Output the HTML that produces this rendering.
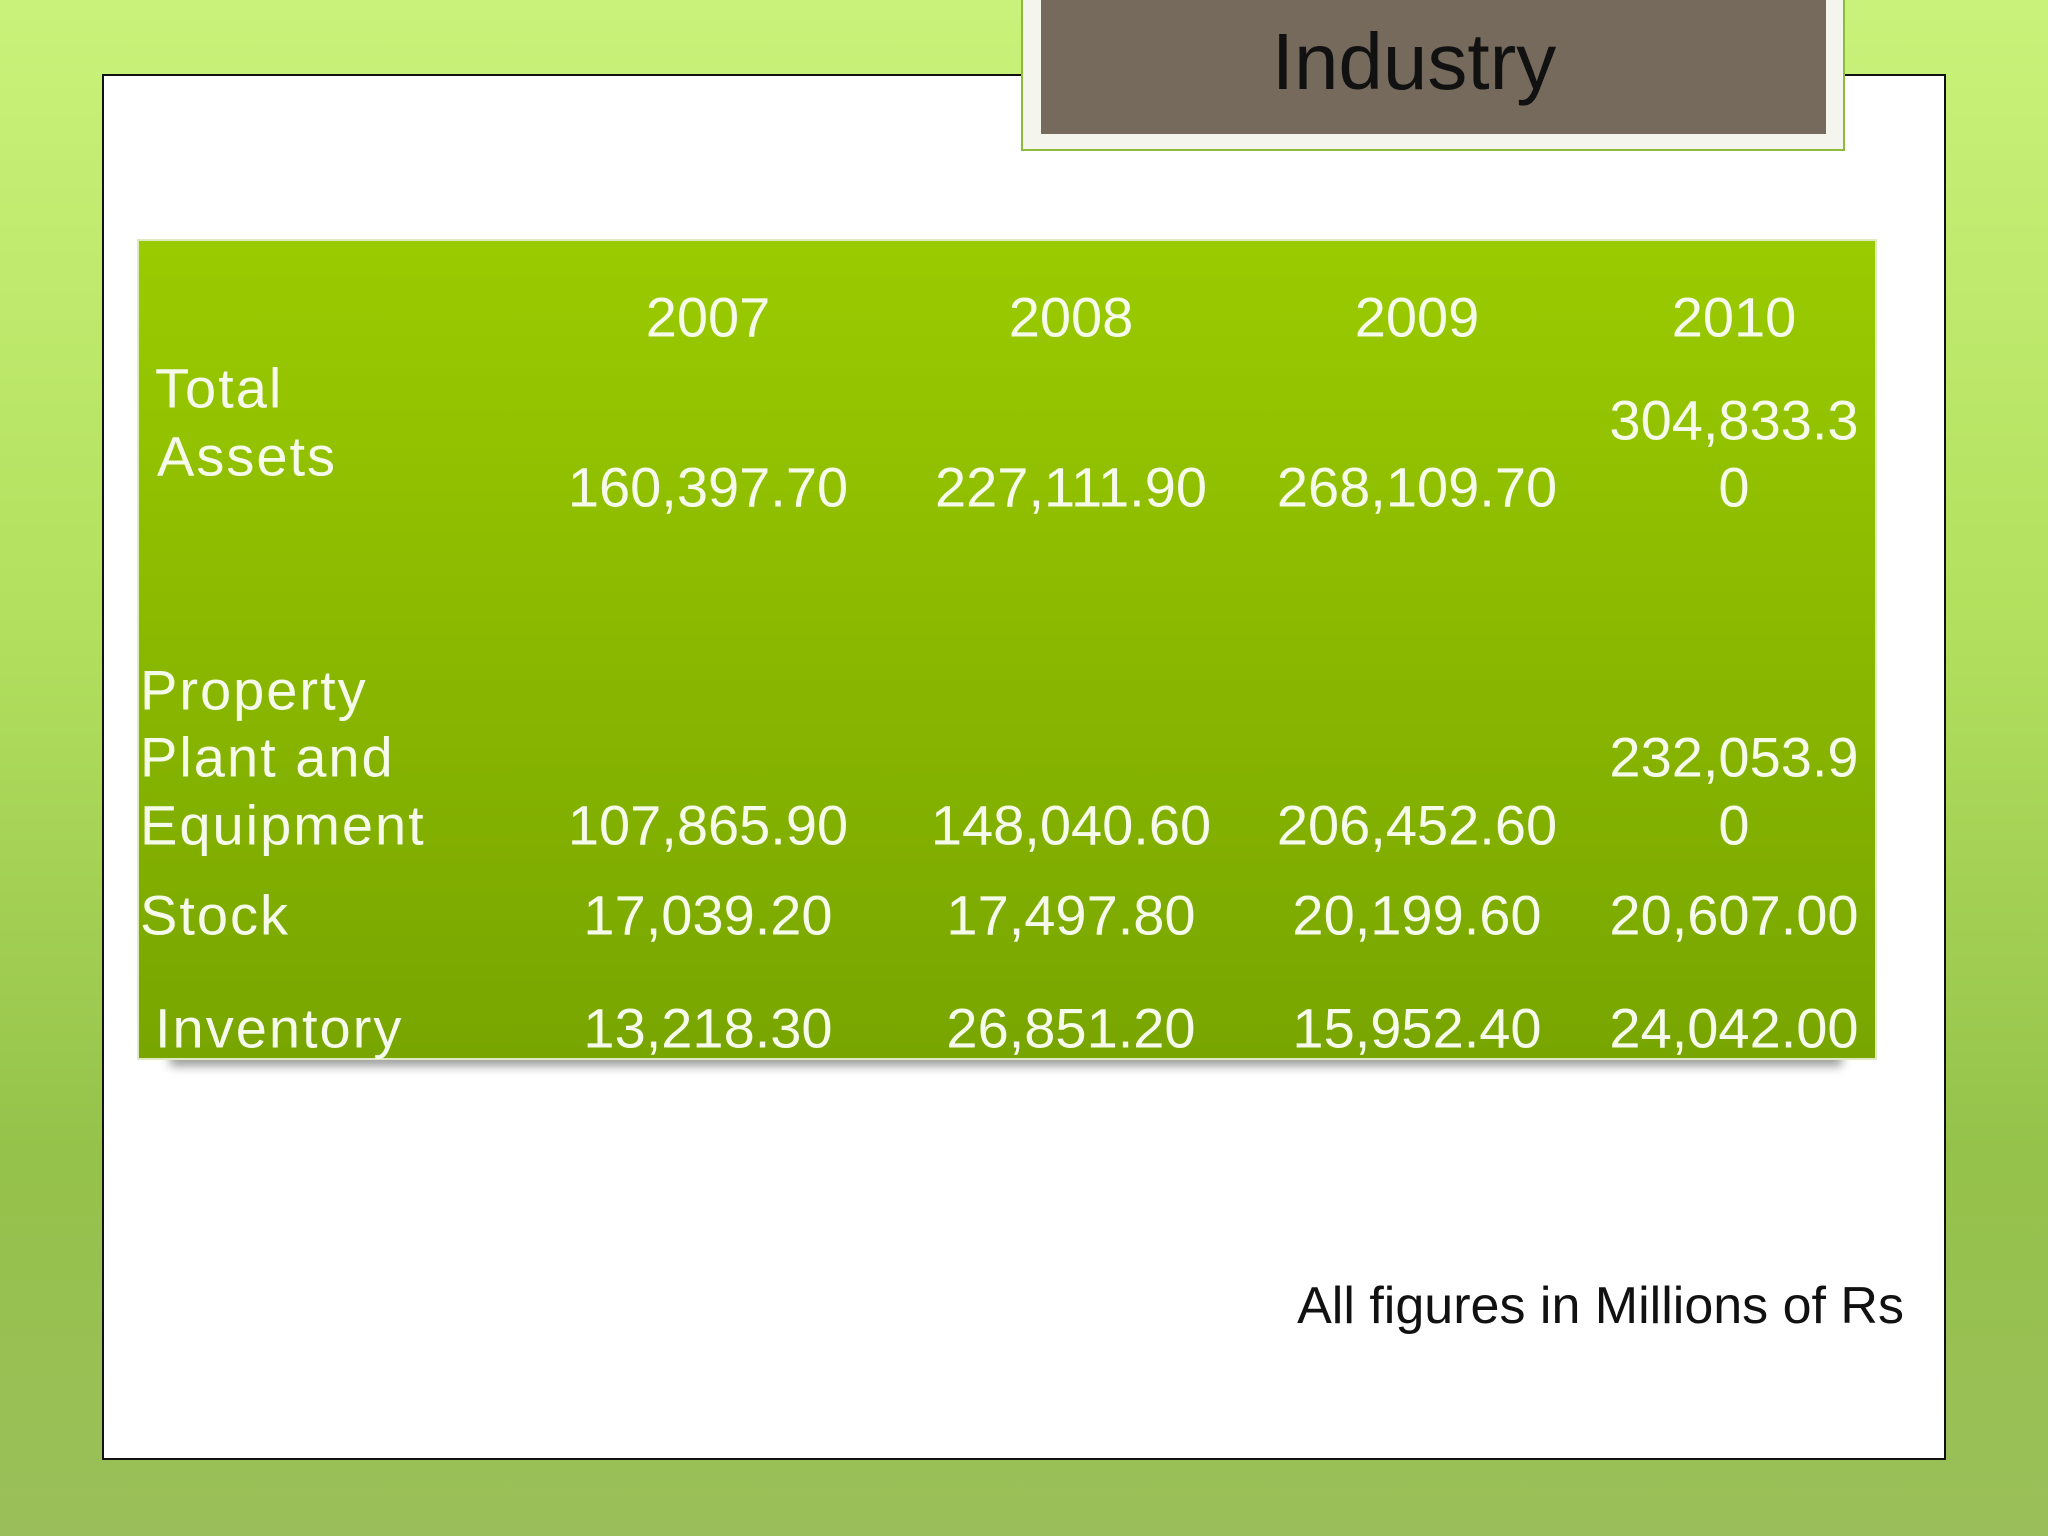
<!DOCTYPE html>
<html><head><meta charset="utf-8"><style>
html,body{margin:0;padding:0}
body{width:2048px;height:1536px;position:relative;overflow:hidden;font-family:"Liberation Sans",sans-serif;
background:linear-gradient(180deg,#c9f27a 0%,#b3e05e 40%,#95c24a 75%,#9abf5a 100%);}
.abs{position:absolute}
.c{position:absolute;transform:translate(-50%,-50%);white-space:nowrap}
.l{position:absolute;transform:translateY(-50%);white-space:nowrap;letter-spacing:2px}
.t{color:#f6faea;font-size:56px}
</style></head><body>
<div class="abs" style="left:102px;top:74px;width:1840px;height:1382px;background:#fff;border:2px solid #111;"></div>
<div class="abs" style="left:1021px;top:-4px;width:824px;height:155px;background:#f4f6ee;border:2px solid #8dbb3a;box-sizing:border-box;"></div>
<div class="abs" style="left:1041px;top:0;width:785px;height:134px;background:#756a5c;"></div>
<div class="c" style="left:1414px;top:62px;font-size:80px;color:#111;">Industry</div>

<div class="abs" style="left:170px;top:1052px;width:1672px;height:14px;background:#999;filter:blur(5px);"></div>
<div class="abs" style="left:137px;top:239px;width:1740px;height:821px;background:linear-gradient(180deg,#9acb00 0%,#8ab800 50%,#78a500 100%);border:2px solid #dfeac0;box-sizing:border-box;"></div>

<div class="c t" style="left:708px;top:317px">2007</div>
<div class="c t" style="left:1071px;top:317px">2008</div>
<div class="c t" style="left:1417px;top:317px">2009</div>
<div class="c t" style="left:1734px;top:317px">2010</div>

<div class="l t" style="left:155px;top:388px">Total</div>
<div class="l t" style="left:157px;top:456px">Assets</div>
<div class="c t" style="left:708px;top:487px">160,397.70</div>
<div class="c t" style="left:1071px;top:487px">227,111.90</div>
<div class="c t" style="left:1417px;top:487px">268,109.70</div>
<div class="c t" style="left:1734px;top:420px">304,833.3</div>
<div class="c t" style="left:1734px;top:487px">0</div>

<div class="l t" style="left:140px;top:690px">Property</div>
<div class="l t" style="left:140px;top:757px">Plant and</div>
<div class="l t" style="left:140px;top:825px">Equipment</div>
<div class="c t" style="left:708px;top:825px">107,865.90</div>
<div class="c t" style="left:1071px;top:825px">148,040.60</div>
<div class="c t" style="left:1417px;top:825px">206,452.60</div>
<div class="c t" style="left:1734px;top:757px">232,053.9</div>
<div class="c t" style="left:1734px;top:825px">0</div>

<div class="l t" style="left:140px;top:915px">Stock</div>
<div class="c t" style="left:708px;top:915px">17,039.20</div>
<div class="c t" style="left:1071px;top:915px">17,497.80</div>
<div class="c t" style="left:1417px;top:915px">20,199.60</div>
<div class="c t" style="left:1734px;top:915px">20,607.00</div>

<div class="l t" style="left:155px;top:1028px">Inventory</div>
<div class="c t" style="left:708px;top:1028px">13,218.30</div>
<div class="c t" style="left:1071px;top:1028px">26,851.20</div>
<div class="c t" style="left:1417px;top:1028px">15,952.40</div>
<div class="c t" style="left:1734px;top:1028px">24,042.00</div>

<div class="abs" style="right:144px;top:1276px;font-size:52px;color:#111;white-space:nowrap">All figures in Millions of Rs</div>
</body></html>
